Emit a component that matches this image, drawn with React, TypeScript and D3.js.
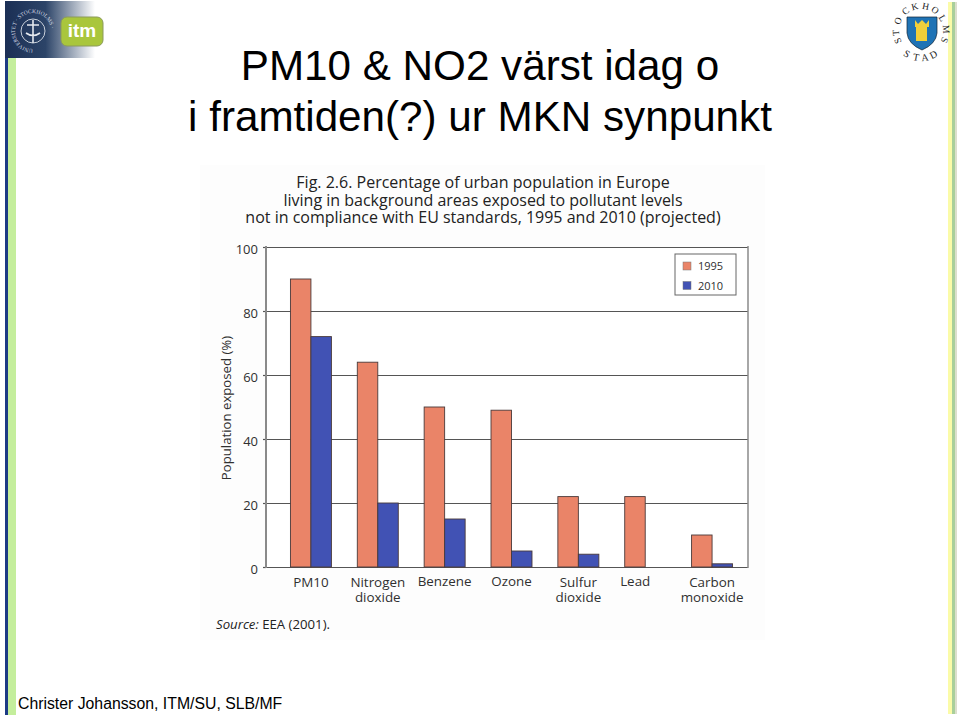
import React, { useEffect, useRef } from "react";
import * as d3 from "d3";

const categories = ["PM10", "Nitrogen dioxide", "Benzene", "Ozone", "Sulfur dioxide", "Lead", "Carbon monoxide"];
const seriesNames = ["1995", "2010"];
const values1995 = [90, 64, 50, 49, 22, 22, 10];
const values2010: (number | null)[] = [72, 20, 15, 5, 4, null, 1];
const yTicks = [0, 20, 40, 60, 80, 100];
const colors = ["#ea8468", "#4152b4"];
const titleLines = ["PM10 & NO2 värst idag o", "i framtiden(?) ur MKN synpunkt"];
const figLines = [
  "Fig. 2.6. Percentage of urban population in Europe",
  "living in background areas exposed to pollutant levels",
  "not in compliance with EU standards, 1995 and 2010 (projected)",
];
const sealTop = ["S", "T", "O", "C", "K", "H", "O", "L", "M", "S"];
const sealTopAngles = [-113, -94, -66, -38, -14, 11, 34, 59, 86, 111];
const sealBottom = ["S", "T", "A", "D"];
const sealBottomAngles = [-149, -170, 172, 153];

const FIG_FONT = "'Open Sans', sans-serif";
const TEXT_COL = "#303030";

const App: React.FC = () => {
  const svgRef = useRef<SVGSVGElement>(null);

  useEffect(() => {
    if (!svgRef.current) return;
    const svg = d3.select(svgRef.current);
    svg.selectAll("*").remove();

    const defs = svg.append("defs");
    const grad = defs.append("linearGradient").attr("id", "head");
    grad.append("stop").attr("offset", "0%").attr("stop-color", "#1b2f55");
    grad.append("stop").attr("offset", "45%").attr("stop-color", "#2c4468");
    grad.append("stop").attr("offset", "100%").attr("stop-color", "#ffffff");
    defs.append("path").attr("id", "uniRing").attr("d", "M33,49 A18,18 0 1 1 33.01,49");

    svg.append("rect").attr("width", 960).attr("height", 716).attr("fill", "#fff");

    // slide borders
    svg.append("rect").attr("x", 5).attr("y", 58).attr("width", 3).attr("height", 657).attr("fill", "#1c3a85");
    svg.append("rect").attr("x", 8).attr("y", 58).attr("width", 8).attr("height", 657).attr("fill", "#c4ee9c");
    svg.append("rect").attr("x", 948).attr("y", 2).attr("width", 4).attr("height", 712).attr("fill", "#fbfba8");
    svg.append("rect").attr("x", 952).attr("y", 2).attr("width", 3).attr("height", 712).attr("fill", "#a9cf9a");
    svg.append("rect").attr("x", 955).attr("y", 2).attr("width", 2).attr("height", 712).attr("fill", "#dcdfcc");

    // university + itm logo
    svg.append("rect").attr("x", 5).attr("y", 1).attr("width", 90).attr("height", 57).attr("fill", "url(#head)");
    svg.append("circle").attr("cx", 33).attr("cy", 31).attr("r", 12).attr("fill", "none").attr("stroke", "#c9d0da").attr("stroke-width", 1);
    svg.append("path").attr("d", "M33,20 V43 M27,25 H39 M26,33 Q33,38 40,33").attr("fill", "none").attr("stroke", "#e4e8ee").attr("stroke-width", 1.6);
    svg.append("text").attr("font-family", "'Liberation Serif', serif").attr("font-size", 5.6).attr("fill", "#d5dbe4")
      .append("textPath").attr("href", "#uniRing").text("UNIVERSITET · STOCKHOLMS ·");
    svg.append("rect").attr("x", 61).attr("y", 17).attr("width", 42).attr("height", 29).attr("rx", 6).attr("fill", "#a9c63c").attr("stroke", "#8b9a5a");
    svg.append("text").attr("x", 82).attr("y", 37).attr("text-anchor", "middle").attr("font-family", "'Liberation Sans', sans-serif")
      .attr("font-weight", 700).attr("font-size", 19).attr("fill", "#fff").text("itm");

    // Stockholm seal
    svg.append("path").attr("d", "M907,17 H937 V33 Q936,44 922,50 Q908,44 907,33 Z").attr("fill", "#1f73b5").attr("stroke", "#123").attr("stroke-width", 0.7);
    svg.append("path").attr("d", "M915,20 L918,24 L922,20 L926,24 L929,20 V27 H927 V41 H916 V27 H915 Z").attr("fill", "#f2cf3a");
    const sealFont = "'Liberation Serif', serif";
    sealTop.forEach((ch, i) => {
      const a = sealTopAngles[i];
      svg.append("text").attr("transform", `translate(921,31) rotate(${a}) translate(0,-22)`).attr("text-anchor", "middle")
        .attr("font-family", sealFont).attr("font-size", 9.5).attr("fill", "#222").text(ch);
    });
    sealBottom.forEach((ch, i) => {
      const a = sealBottomAngles[i];
      svg.append("text").attr("transform", `translate(921,30) rotate(${a}) translate(0,-31) rotate(180)`).attr("text-anchor", "middle")
        .attr("font-family", sealFont).attr("font-size", 10).attr("fill", "#222").text(ch);
    });

    // slide title
    titleLines.forEach((t, i) => {
      svg.append("text").attr("x", 480).attr("y", 80 + i * 51).attr("text-anchor", "middle")
        .attr("font-family", "'Liberation Sans', Arial, sans-serif").attr("font-size", 42.2).attr("fill", "#000").text(t);
    });

    // scanned figure
    svg.append("rect").attr("x", 200).attr("y", 165).attr("width", 565).attr("height", 475).attr("fill", "#fdfdfd");
    const figTitle = svg.append("text").attr("text-anchor", "middle")
      .attr("font-family", FIG_FONT).attr("font-size", 16).attr("fill", "#222");
    figLines.forEach((t, i) => {
      figTitle.append("tspan").attr("x", 483).attr("y", 188 + i * 17.6).text(t);
    });

    const x0 = d3.scaleBand<string>().domain(categories).range([277.5, 745.5]).paddingInner(0.387).paddingOuter(0.1935);
    const x1 = d3.scaleBand<string>().domain(seriesNames).range([0, x0.bandwidth()]);
    const y = d3.scaleLinear().domain([0, 100]).range([567, 247]);

    // plot background and gridlines
    svg.append("rect").attr("x", 266).attr("y", 247).attr("width", 482).attr("height", 320).attr("fill", "#fff");
    const yAxis = svg.append("g").attr("transform", "translate(266,0)")
      .call(d3.axisLeft(y).tickValues(yTicks).tickSize(-482).tickPadding(8));
    yAxis.select(".domain").remove();
    yAxis.selectAll("line").attr("stroke", "#555").attr("stroke-width", 1.2);
    yAxis.selectAll("text").attr("font-family", FIG_FONT).attr("font-size", 13).attr("fill", TEXT_COL).attr("dy", "0.5em");
    yAxis.selectAll<SVGLineElement, number>(".tick").append("line")
      .attr("x1", -3).attr("x2", 0).attr("stroke", "#555").attr("stroke-width", 1.2);

    svg.append("line").attr("x1", 266).attr("x2", 266).attr("y1", 246).attr("y2", 568).attr("stroke", "#8a8a8a").attr("stroke-width", 2);
    svg.append("line").attr("x1", 748).attr("x2", 748).attr("y1", 246).attr("y2", 568).attr("stroke", "#8a8a8a").attr("stroke-width", 1.5);

    // bars
    const series = [values1995, values2010];
    series.forEach((vals, s) => {
      svg.append("g").selectAll("rect")
        .data(vals.map((v, i) => ({ v, cat: categories[i] })).filter((d) => d.v !== null))
        .join("rect")
        .attr("x", (d) => (x0(d.cat) as number) + (x1(seriesNames[s]) as number))
        .attr("y", (d) => y(d.v as number))
        .attr("width", x1.bandwidth())
        .attr("height", (d) => y(0) - y(d.v as number))
        .attr("fill", colors[s])
        .attr("stroke", "#4a3a3a")
        .attr("stroke-width", 0.9);
    });

    // category labels
    categories.forEach((c) => {
      const cx = (x0(c) as number) + x0.bandwidth() / 2 + (c === "Lead" ? -10 : 0);
      const parts = c.split(" ");
      const label = svg.append("text").attr("text-anchor", "middle")
        .attr("font-family", FIG_FONT).attr("font-size", 13.4).attr("fill", TEXT_COL);
      parts.forEach((p, i) => {
        label.append("tspan").attr("x", cx)
          .attr("y", 587 + i * 15.3 - (parts.length === 1 && c !== "PM10" ? 1 : 0)).text(p);
      });
    });

    svg.append("text").attr("x", 231).attr("y", 408).attr("text-anchor", "middle")
      .attr("transform", "rotate(-90 231 408)").attr("font-family", FIG_FONT).attr("font-size", 13.2).attr("fill", TEXT_COL)
      .text("Population exposed (%)");

    // legend
    svg.append("rect").attr("x", 675).attr("y", 254).attr("width", 61).attr("height", 41).attr("fill", "#fff").attr("stroke", "#666").attr("stroke-width", 1);
    seriesNames.forEach((name, i) => {
      const ly = 266 + i * 19.5;
      svg.append("rect").attr("x", 683).attr("y", ly - 4).attr("width", 8).attr("height", 8).attr("fill", colors[i]).attr("stroke", "#777").attr("stroke-width", 0.5);
      svg.append("text").attr("x", 698).attr("y", ly + 4).attr("font-family", FIG_FONT).attr("font-size", 11).attr("fill", TEXT_COL).text(name);
    });

    // source
    const src = svg.append("text").attr("x", 216).attr("y", 629).attr("font-family", FIG_FONT).attr("font-size", 13.2).attr("fill", "#222");
    src.append("tspan").attr("font-style", "italic").text("Source:");
    src.append("tspan").text(" EEA (2001).");

    // footer
    svg.append("text").attr("x", 18).attr("y", 709).attr("font-family", "'Liberation Sans', Arial, sans-serif")
      .attr("font-size", 15.8).attr("fill", "#000").text("Christer Johansson, ITM/SU, SLB/MF");
  }, []);

  return <svg ref={svgRef} width={960} height={716} style={{ position: "absolute", left: 0, top: 0 }} />;
};

export default App;
